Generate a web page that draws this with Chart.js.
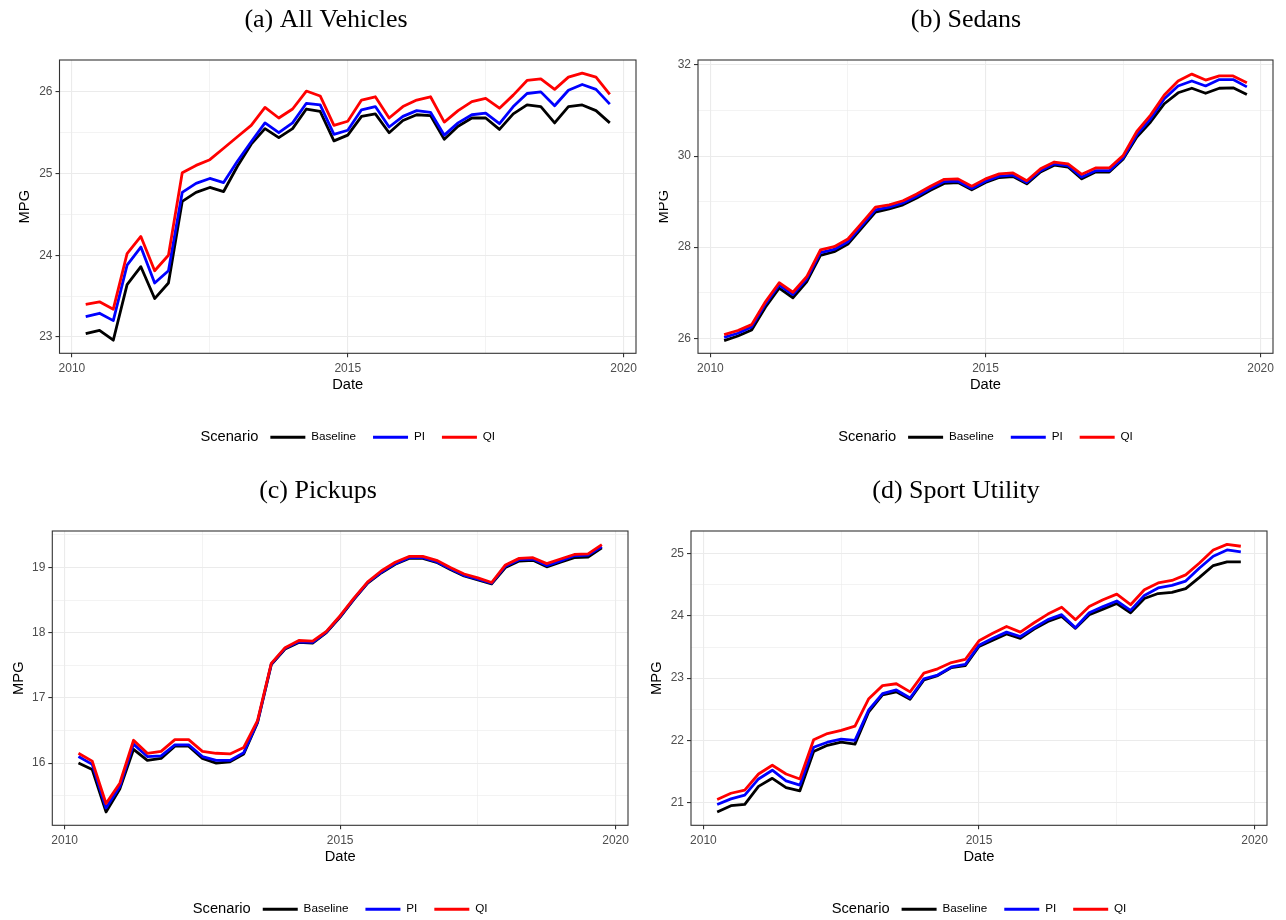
<!DOCTYPE html>
<html>
<head>
<meta charset="utf-8">
<script src="https://cdn.jsdelivr.net/npm/chart.js@4.4.0/dist/chart.umd.min.js"></script>
<style>
  html, body { margin: 0; padding: 0; background: #fff; overflow: hidden; }
  #wrap { position: relative; width: 1286px; height: 920px; overflow: hidden; }
  canvas { position: absolute; }
</style>
</head>
<body>
<div id="wrap">
  <canvas id="chartA"></canvas>
  <canvas id="chartB"></canvas>
  <canvas id="chartC"></canvas>
  <canvas id="chartD"></canvas>
</div>
<script>
// quarterly dates, 2010 Q2 .. 2019 Q4
const quarters = [2010.25, 2010.5, 2010.75, 2011, 2011.25, 2011.5, 2011.75, 2012, 2012.25, 2012.5,
  2012.75, 2013, 2013.25, 2013.5, 2013.75, 2014, 2014.25, 2014.5, 2014.75, 2015,
  2015.25, 2015.5, 2015.75, 2016, 2016.25, 2016.5, 2016.75, 2017, 2017.25, 2017.5,
  2017.75, 2018, 2018.25, 2018.5, 2018.75, 2019, 2019.25, 2019.5, 2019.75];

const scenarios = ['Baseline', 'PI', 'QI'];
const scenarioColors = ['#000000', '#0000ff', '#ff0000'];

// (a) All Vehicles
const allBase = [23.04, 23.08, 22.96, 23.64, 23.86, 23.47, 23.66, 24.66, 24.77, 24.83, 24.78, 25.09, 25.36, 25.55, 25.44, 25.55, 25.79, 25.76, 25.40, 25.47,
  25.70, 25.73, 25.50, 25.65, 25.72, 25.71, 25.42, 25.58, 25.68, 25.68, 25.54, 25.73, 25.84, 25.82, 25.62, 25.82, 25.84, 25.77, 25.62];
const allPI = [23.25, 23.29, 23.20, 23.88, 24.10, 23.66, 23.81, 24.77, 24.88, 24.94, 24.89, 25.15, 25.39, 25.62, 25.50, 25.62, 25.86, 25.84, 25.48, 25.53,
  25.78, 25.82, 25.57, 25.70, 25.77, 25.75, 25.47, 25.62, 25.72, 25.74, 25.61, 25.82, 25.98, 26.00, 25.83, 26.02, 26.09, 26.03, 25.85];
const allQI = [23.40, 23.43, 23.34, 24.02, 24.23, 23.81, 24.00, 25.01, 25.10, 25.17, 25.31, 25.45, 25.59, 25.81, 25.68, 25.79, 26.01, 25.95, 25.59, 25.64,
  25.90, 25.94, 25.68, 25.82, 25.90, 25.94, 25.63, 25.77, 25.88, 25.92, 25.80, 25.96, 26.14, 26.16, 26.03, 26.18, 26.23, 26.18, 25.97];

// (b) Sedans
const sedanBase = [25.95, 26.05, 26.18, 26.68, 27.10, 26.89, 27.24, 27.82, 27.90, 28.07, 28.42, 28.77, 28.84, 28.93, 29.08, 29.25, 29.40, 29.42, 29.26, 29.42,
  29.53, 29.55, 29.39, 29.65, 29.80, 29.76, 29.50, 29.65, 29.65, 29.93, 30.42, 30.75, 31.15, 31.39, 31.49, 31.38, 31.49, 31.50, 31.35];
const sedanPI = [26.02, 26.11, 26.25, 26.75, 27.17, 26.96, 27.30, 27.88, 27.95, 28.12, 28.47, 28.82, 28.88, 28.97, 29.12, 29.29, 29.44, 29.45, 29.29, 29.45,
  29.56, 29.58, 29.42, 29.68, 29.83, 29.79, 29.54, 29.68, 29.68, 29.96, 30.47, 30.82, 31.26, 31.54, 31.65, 31.54, 31.68, 31.68, 31.52];
const sedanQI = [26.08, 26.17, 26.30, 26.80, 27.22, 27.01, 27.35, 27.94, 28.01, 28.18, 28.53, 28.88, 28.93, 29.02, 29.17, 29.34, 29.49, 29.50, 29.34, 29.50,
  29.61, 29.63, 29.46, 29.72, 29.87, 29.83, 29.60, 29.74, 29.74, 30.01, 30.54, 30.90, 31.34, 31.65, 31.80, 31.67, 31.76, 31.76, 31.61];

// (c) Pickups
const pickupBase = [16.00, 15.90, 15.25, 15.60, 16.21, 16.04, 16.07, 16.26, 16.26, 16.07, 16.00, 16.02, 16.14, 16.62, 17.51, 17.75, 17.85, 17.84, 18.00, 18.24,
  18.51, 18.76, 18.92, 19.05, 19.14, 19.14, 19.08, 18.97, 18.87, 18.81, 18.75, 19.00, 19.10, 19.11, 19.01, 19.08, 19.15, 19.16, 19.30];
const pickupPI = [16.10, 15.98, 15.31, 15.64, 16.29, 16.10, 16.11, 16.28, 16.28, 16.10, 16.04, 16.04, 16.16, 16.63, 17.52, 17.76, 17.86, 17.85, 18.01, 18.25,
  18.52, 18.77, 18.93, 19.06, 19.15, 19.15, 19.09, 18.98, 18.88, 18.82, 18.76, 19.02, 19.12, 19.13, 19.03, 19.10, 19.18, 19.19, 19.32];
const pickupQI = [16.15, 16.03, 15.38, 15.69, 16.35, 16.15, 16.18, 16.36, 16.36, 16.18, 16.15, 16.14, 16.24, 16.65, 17.53, 17.77, 17.88, 17.87, 18.02, 18.26,
  18.53, 18.78, 18.95, 19.08, 19.17, 19.17, 19.11, 19.00, 18.90, 18.84, 18.77, 19.04, 19.14, 19.15, 19.06, 19.13, 19.20, 19.21, 19.35];

// (d) Sport Utility
const suvBase = [20.85, 20.95, 20.97, 21.26, 21.39, 21.24, 21.19, 21.82, 21.92, 21.97, 21.94, 22.46, 22.73, 22.78, 22.66, 22.97, 23.04, 23.17, 23.20, 23.51,
  23.61, 23.71, 23.64, 23.79, 23.91, 23.99, 23.80, 24.02, 24.11, 24.20, 24.05, 24.28, 24.36, 24.38, 24.44, 24.62, 24.81, 24.87, 24.87];
const suvPI = [20.97, 21.06, 21.12, 21.38, 21.52, 21.35, 21.28, 21.89, 21.97, 22.02, 22.00, 22.49, 22.75, 22.81, 22.68, 22.99, 23.05, 23.18, 23.22, 23.53,
  23.64, 23.74, 23.67, 23.81, 23.94, 24.02, 23.81, 24.05, 24.15, 24.24, 24.09, 24.33, 24.45, 24.49, 24.56, 24.77, 24.96, 25.06, 25.03];
const suvQI = [21.05, 21.15, 21.20, 21.46, 21.60, 21.46, 21.38, 22.01, 22.11, 22.16, 22.23, 22.67, 22.88, 22.91, 22.78, 23.08, 23.15, 23.25, 23.30, 23.60,
  23.72, 23.83, 23.74, 23.89, 24.03, 24.14, 23.94, 24.15, 24.26, 24.35, 24.18, 24.42, 24.53, 24.57, 24.66, 24.85, 25.06, 25.15, 25.12];

// tick labels (major) and minor grid positions
const xMajor = [2010, 2015, 2020];
const xMinor = [2012.5, 2017.5];
const allMajor = [23, 24, 25, 26];
const allMinor = [23.5, 24.5, 25.5];
const sedanMajor = [26, 28, 30, 32];
const sedanMinor = [27, 29, 31];
const pickupMajor = [16, 17, 18, 19];
const pickupMinor = [15.5, 16.5, 17.5, 18.5, 19.5];
const suvMajor = [21, 22, 23, 24, 25];
const suvMinor = [21.5, 22.5, 23.5, 24.5];

const sans = 'Liberation Sans';
const rightPad = 8;

function points(values) {
  return quarters.map((q, i) => ({ x: q, y: values[i] }));
}

function gridTicks(major, minor) {
  return major.concat(minor).sort((a, b) => a - b).map(v => ({ value: v }));
}

function isMajor(list, v) {
  return list.some(m => Math.abs(m - v) < 1e-9);
}

// ggplot-like panel border
const frame = {
  id: 'frame',
  afterDraw(chart) {
    const { ctx, chartArea: a } = chart;
    ctx.save();
    ctx.strokeStyle = '#333333';
    ctx.lineWidth = 1.1;
    ctx.strokeRect(a.left, a.top, a.right - a.left, a.bottom - a.top);
    ctx.restore();
  }
};

// "Scenario" title to the left of the legend, group centred on the panel
const scenarioLegend = {
  id: 'scenarioLegend',
  afterUpdate(chart) {
    const lg = chart.legend;
    const boxes = lg.legendHitBoxes;
    if (!boxes || !boxes.length) return;
    const ctx = chart.ctx;
    ctx.save();
    ctx.font = '14.7px "' + sans + '"';
    const w = ctx.measureText('Scenario').width;
    ctx.restore();
    const first = boxes[0], last = boxes[boxes.length - 1];
    const itemsW = last.left + last.width - first.left;
    const gap = 12;
    const mid = (chart.chartArea.left + chart.chartArea.right) / 2;
    const start = mid - (w + gap + itemsW) / 2;
    const shift = start + w + gap - first.left;
    lg.left += shift;
    lg.right += shift;
    boxes.forEach(b => { b.left += shift; });
    chart.$scenarioX = start;
  },
  afterDraw(chart) {
    const b = chart.legend.legendHitBoxes[0];
    const ctx = chart.ctx;
    ctx.save();
    ctx.font = '14.7px "' + sans + '"';
    ctx.fillStyle = '#000';
    ctx.textAlign = 'left';
    ctx.textBaseline = 'middle';
    ctx.fillText('Scenario', chart.$scenarioX, b.top + b.height / 2);
    ctx.restore();
  }
};

const panels = [
  { id: 'chartA', title: '(a) All Vehicles', left: 16, top: 0, w: 620, h: 453, yW: 43.5, mpgPad: 0.2,
    yMin: 22.8, yMax: 26.39, major: allMajor, minor: allMinor, series: [allBase, allPI, allQI] },
  { id: 'chartB', title: '(b) Sedans', left: 659, top: 0, w: 614, h: 453, yW: 39, mpgPad: -4,
    yMin: 25.67, yMax: 32.11, major: sedanMajor, minor: sedanMinor, series: [sedanBase, sedanPI, sedanQI] },
  { id: 'chartC', title: '(c) Pickups', left: 8, top: 471, w: 620, h: 454, yW: 44.3, mpgPad: 1.7,
    yMin: 15.045, yMax: 19.56, major: pickupMajor, minor: pickupMinor, series: [pickupBase, pickupPI, pickupQI] },
  { id: 'chartD', title: '(d) Sport Utility', left: 645, top: 471, w: 622, h: 454, yW: 46, mpgPad: 3.2,
    yMin: 20.635, yMax: 25.365, major: suvMajor, minor: suvMinor, series: [suvBase, suvPI, suvQI] }
];

function makeChart(p) {
  const canvas = document.getElementById(p.id);
  canvas.width = p.w + rightPad;
  canvas.height = p.h;
  canvas.style.left = p.left + 'px';
  canvas.style.top = p.top + 'px';

  return new Chart(canvas, {
    type: 'line',
    data: {
      datasets: scenarios.map((name, i) => ({
        label: name,
        data: points(p.series[i]),
        borderColor: scenarioColors[i],
        backgroundColor: scenarioColors[i],
        borderWidth: 2.8,
        pointRadius: 0,
        tension: 0,
        borderJoinStyle: 'round',
        order: scenarios.length - i
      }))
    },
    options: {
      responsive: false,
      animation: false,
      layout: { padding: { left: 0, top: 0, bottom: 0, right: rightPad } },
      plugins: {
        title: {
          display: true,
          text: p.title,
          color: '#000',
          font: { family: 'Liberation Serif', size: 26, weight: 'normal', lineHeight: 1.2 },
          padding: { top: 4.4, bottom: 24.4 }
        },
        legend: {
          position: 'bottom',
          labels: {
            boxWidth: 35,
            boxHeight: 3,
            padding: 17,
            color: '#000',
            font: { family: sans, size: 11.7 },
            sort: (a, b) => a.datasetIndex - b.datasetIndex,
            generateLabels(chart) {
              const items = Chart.defaults.plugins.legend.labels.generateLabels(chart);
              items.forEach(it => { it.lineWidth = 0; it.fillStyle = it.strokeStyle; });
              return items;
            }
          }
        },
        tooltip: { enabled: false }
      },
      scales: {
        x: {
          type: 'linear',
          min: 2009.775,
          max: 2020.225,
          afterBuildTicks: s => { s.ticks = gridTicks(xMajor, xMinor); },
          afterFit: s => { s.height = 61; },
          ticks: {
            padding: 4,
            autoSkip: false,
            maxRotation: 0,
            color: '#4d4d4d',
            font: { family: sans, size: 12 },
            callback: v => isMajor(xMajor, v) ? String(v) : ''
          },
          grid: {
            color: '#ebebeb',
            lineWidth: c => isMajor(xMajor, c.tick.value) ? 1.1 : 0.6,
            tickColor: c => isMajor(xMajor, c.tick.value) ? '#333333' : 'rgba(0,0,0,0)',
            tickLength: 4,
            tickWidth: 1.1
          },
          border: { display: false },
          title: {
            display: true,
            text: 'Date',
            color: '#000',
            font: { family: sans, size: 14.7, lineHeight: 1.2 },
            padding: { top: 0, bottom: 20.5 }
          }
        },
        y: {
          min: p.yMin,
          max: p.yMax,
          afterBuildTicks: s => { s.ticks = gridTicks(p.major, p.minor); },
          afterFit: s => { s.width = p.yW; },
          ticks: {
            padding: 3,
            autoSkip: false,
            color: '#4d4d4d',
            font: { family: sans, size: 12 },
            callback: v => isMajor(p.major, v) ? String(v) : ''
          },
          grid: {
            color: '#ebebeb',
            lineWidth: c => isMajor(p.major, c.tick.value) ? 1.1 : 0.6,
            tickColor: c => isMajor(p.major, c.tick.value) ? '#333333' : 'rgba(0,0,0,0)',
            tickLength: 4,
            tickWidth: 1.1
          },
          border: { display: false },
          title: {
            display: true,
            text: 'MPG',
            color: '#000',
            font: { family: sans, size: 14.7, lineHeight: 1.2 },
            padding: { top: p.mpgPad, bottom: 0 }
          }
        }
      }
    },
    plugins: [frame, scenarioLegend]
  });
}

panels.forEach(makeChart);
</script>
</body>
</html>
